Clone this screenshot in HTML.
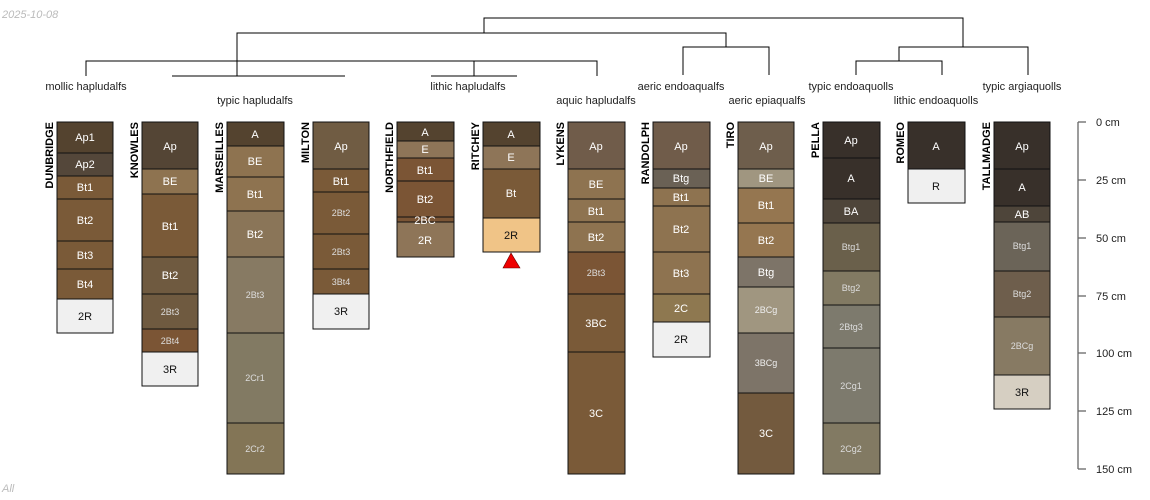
<!DOCTYPE html>
<html><head><meta charset="utf-8"><style>
html,body{margin:0;padding:0;background:#fff;width:1150px;height:500px;overflow:hidden}
svg{display:block;font-family:"Liberation Sans",sans-serif}
.h{font-size:11px;text-anchor:middle}
.s{font-size:9px;text-anchor:middle}
.n{font-size:11px;font-weight:bold;text-anchor:end}
.t{font-size:11px;fill:#222;text-anchor:middle}
</style></head><body>
<svg width="1150" height="500" viewBox="0 0 1150 500">
<text x="2" y="18" font-size="11" font-style="italic" fill="#bbb">2025-10-08</text>
<text x="2" y="492" font-size="11" font-style="italic" fill="#bbb">All</text>
<!-- dendrogram -->
<g stroke="#000" stroke-width="1" fill="none">
<polyline points="484,33 484,18 963,18 963,47"/>
<polyline points="237,76 237,33 726,33 726,47"/>
<polyline points="683,75 683,47 769,47 769,75"/>
<polyline points="899,61 899,47 1028,47 1028,75"/>
<polyline points="856,75 856,61 942,61 942,75"/>
<polyline points="86,76 86,61 597,61 597,76"/>
<line x1="172" y1="76" x2="345" y2="76"/>
<line x1="431" y1="76" x2="517" y2="76"/>
<line x1="474" y1="61" x2="474" y2="76"/>
</g>
<g font-size="11" fill="#222" text-anchor="middle">
<text x="86" y="90">mollic hapludalfs</text>
<text x="255" y="104">typic hapludalfs</text>
<text x="468" y="90">lithic hapludalfs</text>
<text x="596" y="104">aquic hapludalfs</text>
<text x="681" y="90">aeric endoaqualfs</text>
<text x="767" y="104">aeric epiaqualfs</text>
<text x="851" y="90">typic endoaquolls</text>
<text x="936" y="104">lithic endoaquolls</text>
<text x="1022" y="90">typic argiaquolls</text>
</g>
<g id="profiles" stroke="#111" stroke-width="1"></g>
<!-- axis -->
<g stroke="#666" stroke-width="1.3">
<line x1="1078" y1="122" x2="1078" y2="469"/>
<line x1="1078" y1="122" x2="1086" y2="122"/><line x1="1078" y1="180" x2="1086" y2="180"/>
<line x1="1078" y1="238" x2="1086" y2="238"/><line x1="1078" y1="296" x2="1086" y2="296"/>
<line x1="1078" y1="353" x2="1086" y2="353"/><line x1="1078" y1="411" x2="1086" y2="411"/>
<line x1="1078" y1="469" x2="1086" y2="469"/>
</g>
<g font-size="11" fill="#222">
<text x="1096" y="126">0 cm</text><text x="1096" y="184">25 cm</text>
<text x="1096" y="242">50 cm</text><text x="1096" y="300">75 cm</text>
<text x="1096" y="357">100 cm</text><text x="1096" y="415">125 cm</text>
<text x="1096" y="473">150 cm</text>
</g>
<polygon points="511,253 503,268 520,268" fill="#e00" stroke="#600" stroke-width="0.6"/>

<!-- DUNBRIDGE -->
<g stroke="#111"><rect x="57" y="122" width="56" height="31" fill="#54432f"/><rect x="57" y="153" width="56" height="23" fill="#54473a"/><rect x="57" y="176" width="56" height="23" fill="#7a5a38"/><rect x="57" y="199" width="56" height="42" fill="#7a5a38"/><rect x="57" y="241" width="56" height="28" fill="#7a5a38"/><rect x="57" y="269" width="56" height="30" fill="#7a5a38"/><rect x="57" y="299" width="56" height="34" fill="#f0f0f0"/></g>
<g fill="#fff"><text class="h" x="85" y="141">Ap1</text><text class="h" x="85" y="168">Ap2</text><text class="h" x="85" y="191">Bt1</text><text class="h" x="85" y="224">Bt2</text><text class="h" x="85" y="259">Bt3</text><text class="h" x="85" y="288">Bt4</text><text class="h" x="85" y="320" fill="#111">2R</text></g>
<text class="n" transform="translate(53,122) rotate(-90)">DUNBRIDGE</text>
<!-- KNOWLES -->
<g stroke="#111"><rect x="142" y="122" width="56" height="47" fill="#544535"/><rect x="142" y="169" width="56" height="25" fill="#8e7350"/><rect x="142" y="194" width="56" height="63" fill="#7a5a38"/><rect x="142" y="257" width="56" height="37" fill="#6f5a40"/><rect x="142" y="294" width="56" height="35" fill="#6f5a40"/><rect x="142" y="329" width="56" height="23" fill="#7b5535"/><rect x="142" y="352" width="56" height="34" fill="#f0f0f0"/></g>
<g fill="#fff"><text class="h" x="170" y="150">Ap</text><text class="h" x="170" y="185">BE</text><text class="h" x="170" y="230">Bt1</text><text class="h" x="170" y="279">Bt2</text><text class="s" x="170" y="315" fill="#ddd">2Bt3</text><text class="s" x="170" y="344" fill="#ddd">2Bt4</text><text class="h" x="170" y="373" fill="#111">3R</text></g>
<text class="n" transform="translate(138,122) rotate(-90)">KNOWLES</text>
<!-- MARSEILLES -->
<g stroke="#111"><rect x="227" y="122" width="57" height="24" fill="#54432f"/><rect x="227" y="146" width="57" height="31" fill="#8e7350"/><rect x="227" y="177" width="57" height="34" fill="#8e7350"/><rect x="227" y="211" width="57" height="46" fill="#8a7558"/><rect x="227" y="257" width="57" height="76" fill="#877a63"/><rect x="227" y="333" width="57" height="90" fill="#827a63"/><rect x="227" y="423" width="57" height="51" fill="#837556"/></g>
<g fill="#fff"><text class="h" x="255" y="138">A</text><text class="h" x="255" y="165">BE</text><text class="h" x="255" y="198">Bt1</text><text class="h" x="255" y="238">Bt2</text><text class="s" x="255" y="298" fill="#ddd">2Bt3</text><text class="s" x="255" y="381" fill="#ddd">2Cr1</text><text class="s" x="255" y="452" fill="#ddd">2Cr2</text></g>
<text class="n" transform="translate(223,122) rotate(-90)">MARSEILLES</text>
<!-- MILTON -->
<g stroke="#111"><rect x="313" y="122" width="56" height="47" fill="#705c43"/><rect x="313" y="169" width="56" height="23" fill="#7a5a38"/><rect x="313" y="192" width="56" height="42" fill="#7a5a38"/><rect x="313" y="234" width="56" height="35" fill="#7a5a38"/><rect x="313" y="269" width="56" height="25" fill="#7a5a38"/><rect x="313" y="294" width="56" height="35" fill="#f0f0f0"/></g>
<g fill="#fff"><text class="h" x="341" y="150">Ap</text><text class="h" x="341" y="185">Bt1</text><text class="s" x="341" y="216" fill="#ddd">2Bt2</text><text class="s" x="341" y="255" fill="#ddd">2Bt3</text><text class="s" x="341" y="285" fill="#ddd">3Bt4</text><text class="h" x="341" y="315" fill="#111">3R</text></g>
<text class="n" transform="translate(309,122) rotate(-90)">MILTON</text>
<!-- NORTHFIELD -->
<g stroke="#111"><rect x="397" y="122" width="57" height="19" fill="#54432f"/><rect x="397" y="141" width="57" height="17" fill="#8e7558"/><rect x="397" y="158" width="57" height="23" fill="#7b5535"/><rect x="397" y="181" width="57" height="36" fill="#7b5535"/><rect x="397" y="217" width="57" height="5" fill="#7b5535"/><rect x="397" y="222" width="57" height="35" fill="#8e7558"/></g>
<g fill="#fff"><text class="h" x="425" y="136">A</text><text class="h" x="425" y="153">E</text><text class="h" x="425" y="174">Bt1</text><text class="h" x="425" y="203">Bt2</text><text class="h" x="425" y="224">2BC</text><text class="h" x="425" y="244">2R</text></g>
<text class="n" transform="translate(393,122) rotate(-90)">NORTHFIELD</text>
<!-- RITCHEY -->
<g stroke="#111"><rect x="483" y="122" width="57" height="24" fill="#54432f"/><rect x="483" y="146" width="57" height="23" fill="#8e7558"/><rect x="483" y="169" width="57" height="49" fill="#7a5a38"/><rect x="483" y="218" width="57" height="34" fill="#f0c487"/></g>
<g fill="#fff"><text class="h" x="511" y="138">A</text><text class="h" x="511" y="161">E</text><text class="h" x="511" y="197">Bt</text><text class="h" x="511" y="239" fill="#111">2R</text></g>
<text class="n" transform="translate(479,122) rotate(-90)">RITCHEY</text>
<!-- LYKENS -->
<g stroke="#111"><rect x="568" y="122" width="57" height="47" fill="#705c4a"/><rect x="568" y="169" width="57" height="30" fill="#8e7350"/><rect x="568" y="199" width="57" height="23" fill="#8e7350"/><rect x="568" y="222" width="57" height="30" fill="#8e7350"/><rect x="568" y="252" width="57" height="42" fill="#7b5535"/><rect x="568" y="294" width="57" height="58" fill="#7a5a38"/><rect x="568" y="352" width="57" height="122" fill="#7a5a38"/></g>
<g fill="#fff"><text class="h" x="596" y="150">Ap</text><text class="h" x="596" y="188">BE</text><text class="h" x="596" y="215">Bt1</text><text class="h" x="596" y="241">Bt2</text><text class="s" x="596" y="276" fill="#ddd">2Bt3</text><text class="h" x="596" y="327">3BC</text><text class="h" x="596" y="417">3C</text></g>
<text class="n" transform="translate(564,122) rotate(-90)">LYKENS</text>
<!-- RANDOLPH -->
<g stroke="#111"><rect x="653" y="122" width="57" height="47" fill="#705c4a"/><rect x="653" y="169" width="57" height="19" fill="#6a6155"/><rect x="653" y="188" width="57" height="18" fill="#8e7350"/><rect x="653" y="206" width="57" height="46" fill="#8e7350"/><rect x="653" y="252" width="57" height="42" fill="#8e7350"/><rect x="653" y="294" width="57" height="28" fill="#8e7850"/><rect x="653" y="322" width="57" height="35" fill="#f0f0f0"/></g>
<g fill="#fff"><text class="h" x="681" y="150">Ap</text><text class="h" x="681" y="182">Btg</text><text class="h" x="681" y="201">Bt1</text><text class="h" x="681" y="233">Bt2</text><text class="h" x="681" y="277">Bt3</text><text class="h" x="681" y="312">2C</text><text class="h" x="681" y="343" fill="#111">2R</text></g>
<text class="n" transform="translate(649,122) rotate(-90)">RANDOLPH</text>
<!-- TIRO -->
<g stroke="#111"><rect x="738" y="122" width="56" height="47" fill="#6e5e4c"/><rect x="738" y="169" width="56" height="19" fill="#a09680"/><rect x="738" y="188" width="56" height="35" fill="#957650"/><rect x="738" y="223" width="56" height="34" fill="#957650"/><rect x="738" y="257" width="56" height="30" fill="#7d7468"/><rect x="738" y="287" width="56" height="46" fill="#a09680"/><rect x="738" y="333" width="56" height="60" fill="#7d7468"/><rect x="738" y="393" width="56" height="81" fill="#735a3e"/></g>
<g fill="#fff"><text class="h" x="766" y="150">Ap</text><text class="h" x="766" y="182">BE</text><text class="h" x="766" y="209">Bt1</text><text class="h" x="766" y="244">Bt2</text><text class="h" x="766" y="276">Btg</text><text class="s" x="766" y="313" fill="#eee">2BCg</text><text class="s" x="766" y="366" fill="#eee">3BCg</text><text class="h" x="766" y="437">3C</text></g>
<text class="n" transform="translate(734,122) rotate(-90)">TIRO</text>
<!-- PELLA -->
<g stroke="#111"><rect x="823" y="122" width="57" height="36" fill="#38302a"/><rect x="823" y="158" width="57" height="41" fill="#38302a"/><rect x="823" y="199" width="57" height="24" fill="#4e453a"/><rect x="823" y="223" width="57" height="48" fill="#6a604b"/><rect x="823" y="271" width="57" height="34" fill="#827a63"/><rect x="823" y="305" width="57" height="43" fill="#7d7a6d"/><rect x="823" y="348" width="57" height="75" fill="#7d7a6d"/><rect x="823" y="423" width="57" height="51" fill="#827a63"/></g>
<g fill="#fff"><text class="h" x="851" y="144">Ap</text><text class="h" x="851" y="182">A</text><text class="h" x="851" y="215">BA</text><text class="s" x="851" y="250" fill="#ddd">Btg1</text><text class="s" x="851" y="291" fill="#ddd">Btg2</text><text class="s" x="851" y="330" fill="#ddd">2Btg3</text><text class="s" x="851" y="389" fill="#ddd">2Cg1</text><text class="s" x="851" y="452" fill="#ddd">2Cg2</text></g>
<text class="n" transform="translate(819,122) rotate(-90)">PELLA</text>
<!-- ROMEO -->
<g stroke="#111"><rect x="908" y="122" width="57" height="47" fill="#38302a"/><rect x="908" y="169" width="57" height="34" fill="#f0f0f0"/></g>
<g fill="#fff"><text class="h" x="936" y="150">A</text><text class="h" x="936" y="190" fill="#111">R</text></g>
<text class="n" transform="translate(904,122) rotate(-90)">ROMEO</text>
<!-- TALLMADGE -->
<g stroke="#111"><rect x="994" y="122" width="56" height="47" fill="#38302a"/><rect x="994" y="169" width="56" height="37" fill="#38302a"/><rect x="994" y="206" width="56" height="16" fill="#4e453a"/><rect x="994" y="222" width="56" height="49" fill="#6b6458"/><rect x="994" y="271" width="56" height="46" fill="#6e5e4c"/><rect x="994" y="317" width="56" height="58" fill="#877a63"/><rect x="994" y="375" width="56" height="34" fill="#d6cfc2"/></g>
<g fill="#fff"><text class="h" x="1022" y="150">Ap</text><text class="h" x="1022" y="191">A</text><text class="h" x="1022" y="218">AB</text><text class="s" x="1022" y="249" fill="#ddd">Btg1</text><text class="s" x="1022" y="297" fill="#ddd">Btg2</text><text class="s" x="1022" y="349" fill="#ddd">2BCg</text><text class="h" x="1022" y="396" fill="#111">3R</text></g>
<text class="n" transform="translate(990,122) rotate(-90)">TALLMADGE</text>
</svg>
</body></html>
